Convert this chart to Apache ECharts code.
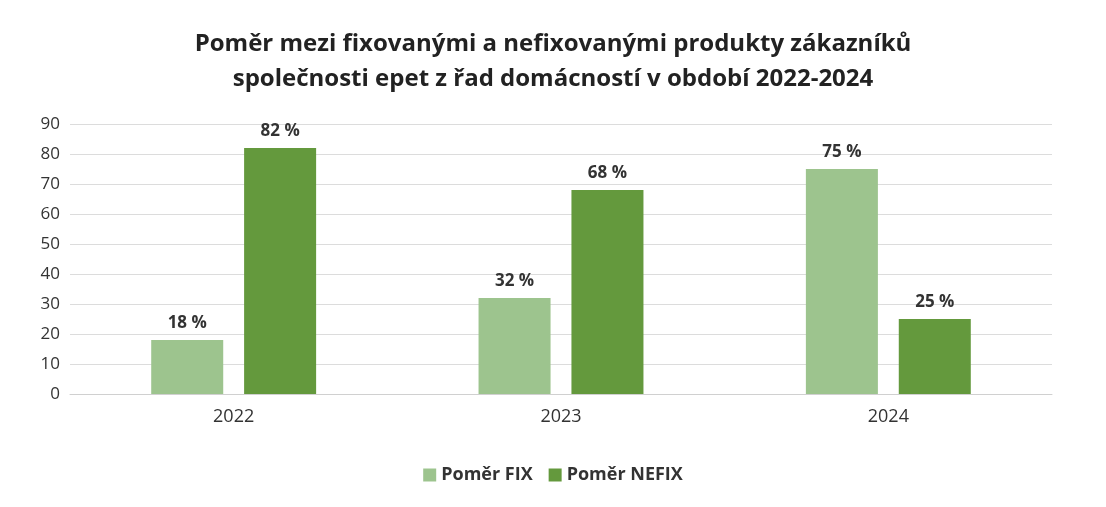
<!DOCTYPE html>
<html><head><meta charset="utf-8">
<script src="https://cdn.jsdelivr.net/npm/echarts@6/dist/echarts.min.js"></script>
<style>html,body{margin:0;padding:0;background:#fff}#c{width:1106px;height:507px}</style>
</head><body><div id="c"></div>
<script>
const categories = ['2022', '2023', '2024'];
const fixValues = [18, 32, 75];
const nefixValues = [82, 68, 25];
const yTicks = [0, 10, 20, 30, 40, 50, 60, 70, 80, 90];
const font = '"Open Sans","Noto Sans",sans-serif';
const chart = echarts.init(document.getElementById('c'));
const lbl = {show: true, position: 'top', distance: 8, formatter: '{c} %', fontFamily: font, fontWeight: 'bold', fontSize: 17, color: '#333'};
chart.setOption({
  animation: false,
  title: {text: 'Poměr mezi fixovanými a nefixovanými produkty zákazníků\nspolečnosti epet z řad domácností v období 2022-2024', left: 'center', top: 22,
    textStyle: {fontFamily: font, fontWeight: 'bold', fontSize: 24, color: '#222', lineHeight: 35}},
  grid: {left: 70, right: 54, top: 124, bottom: 113},
  legend: {bottom: 18, left: 'center', itemWidth: 13, itemHeight: 13, icon: 'rect', itemGap: 16,
    textStyle: {fontFamily: font, fontWeight: 'bold', fontSize: 18, color: '#333'}},
  xAxis: {type: 'category', data: categories, axisTick: {show: false},
    axisLine: {lineStyle: {color: '#d0d0d0'}},
    axisLabel: {fontFamily: font, fontSize: 18, color: '#333', margin: 14}},
  yAxis: {type: 'value', min: yTicks[0], max: yTicks[yTicks.length - 1], interval: 10,
    splitLine: {lineStyle: {color: '#dcdcdc'}},
    axisLabel: {fontFamily: font, fontSize: 17, color: '#333', margin: 10}},
  series: [
    {name: 'Poměr FIX', type: 'bar', data: fixValues, barWidth: '22%', barGap: '29%', itemStyle: {color: '#9dc48e'}, label: lbl},
    {name: 'Poměr NEFIX', type: 'bar', data: nefixValues, barWidth: '22%', itemStyle: {color: '#64993d'}, label: lbl}
  ]
});
</script></body></html>
